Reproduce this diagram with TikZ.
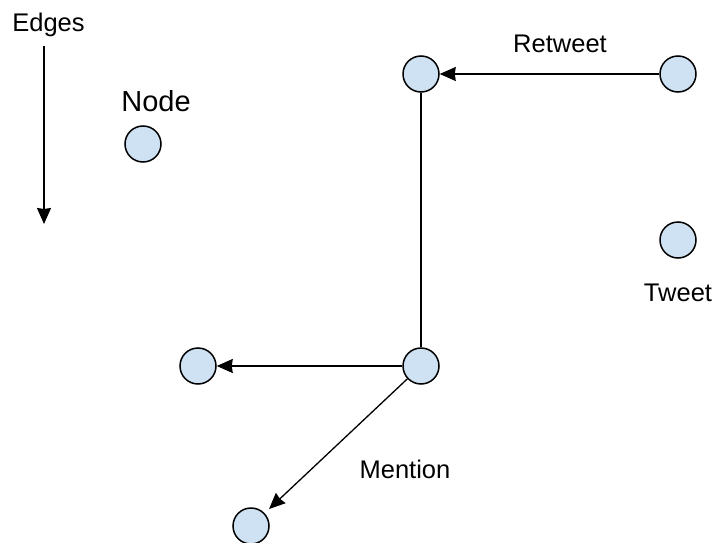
\documentclass[tikz,border=0pt]{standalone}
\usepackage{fontspec}
\setmainfont{Liberation Sans}
\usetikzlibrary{arrows.meta}
\definecolor{nodefill}{HTML}{CFE2F3}
\begin{document}
\begin{tikzpicture}[x=1pt,y=-1pt,
  vert/.style={circle,draw=black,line width=1.5pt,fill=nodefill,minimum size=36pt,inner sep=0pt},
  lbl/.style={inner sep=0pt,anchor=base,font=\fontsize{25.5}{28}\selectfont},
  conn/.style={line width=1.3pt,draw=black},
  arr/.style={conn,-{Stealth[length=16pt,width=14pt,inset=1pt]}}]
\useasboundingbox (0,0) rectangle (720,543);
\fill[white] (0,0) rectangle (720,543);
% nodes
\node[vert] (A) at (421,74) {};
\node[vert] (B) at (678,74) {};
\node[vert] (N) at (143,144) {};
\node[vert] (T) at (678,240) {};
\node[vert] (C) at (198,366) {};
\node[vert] (D) at (421,366) {};
\node[vert] (E) at (251,526) {};
% labels
\node[lbl] (ledges) at (48.5,31.5) {Edges};
\node[lbl,font=\fontsize{29}{32}\selectfont] (lnode) at (156,111.7) {Node};
\node[lbl] (lretweet) at (560,52.3) {Retweet};
\node[lbl] (ltweet) at (678,301.7) {Tweet};
\node[lbl] (lmention) at (405,478) {Mention};
% legend arrow
\coordinate (e1) at (44,46);
\coordinate (e2) at (44,224);
\draw[arr] (e1) -- (e2);
% connectors
\draw[arr] (B) -- (A);
\draw[conn] (A) -- (D);
\draw[arr] (D) -- (C);
\draw[arr,shorten >=6pt] (D) -- (E);
\end{tikzpicture}
\end{document}
